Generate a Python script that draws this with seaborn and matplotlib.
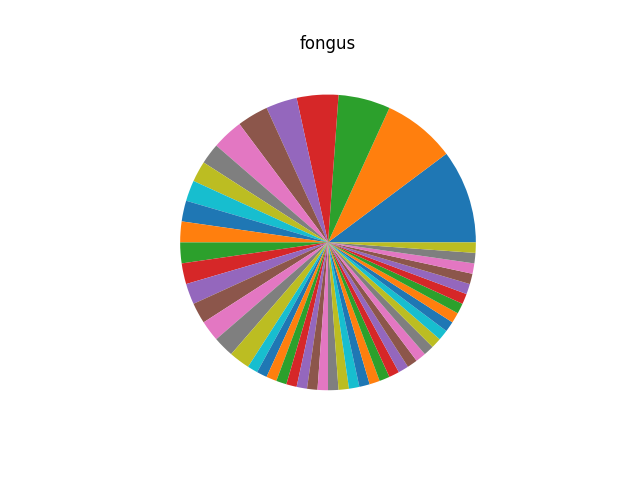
import matplotlib
matplotlib.use("Agg")
import matplotlib.pyplot as plt
import seaborn as sns

# counts per category (largest first, then the long tail)
counts = [9, 7, 5, 4, 3, 3, 3,
          2, 2, 2, 2, 2, 2, 2, 2, 2, 2, 2, 2,
          1, 1, 1, 1, 1, 1, 1, 1, 1, 1,
          1, 1, 1, 1, 1, 1, 1, 1, 1, 1,
          1, 1, 1, 1, 1, 1, 1, 1, 1, 1]
title = "fongus"

colors = sns.color_palette("tab10", 10)

fig, ax = plt.subplots(figsize=(6.4, 4.8), dpi=100)

ax.pie(counts, colors=colors)

ax.set_title(title)

plt.savefig("out.png", dpi=100)
# plt.show()
